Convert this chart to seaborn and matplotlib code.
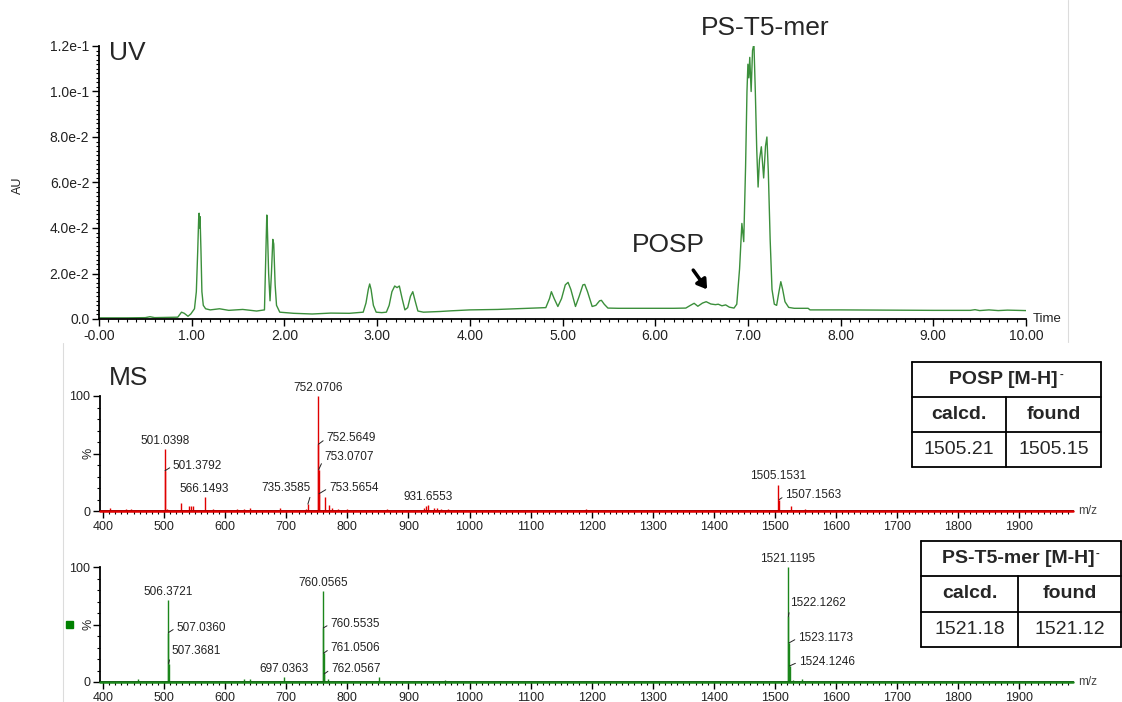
import matplotlib
matplotlib.use('Agg')
import matplotlib.pyplot as plt
import matplotlib.ticker as mticker
from matplotlib.lines import Line2D
from matplotlib.patches import Rectangle
import seaborn as sns

sns.set_style('ticks')
plt.rcParams['font.family'] = ['Liberation Sans', 'DejaVu Sans']

# ---- UV chromatogram: time in min, absorbance in AU
uv_time = [0.00, 0.30, 0.50, 0.55, 0.60, 0.85, 0.89, 0.92, 0.96, 0.99,
           1.03, 1.05, 1.065, 1.075, 1.080, 1.085, 1.090, 1.100, 1.110, 1.125,
           1.15, 1.20, 1.30, 1.40, 1.55, 1.70, 1.785, 1.800, 1.810, 1.815,
           1.830, 1.845, 1.860, 1.875, 1.885, 1.900, 1.915, 1.95, 2.10, 2.30,
           2.50, 2.70, 2.85, 2.88, 2.905, 2.920, 2.935, 2.96, 2.99, 3.05,
           3.10, 3.13, 3.16, 3.19, 3.215, 3.24, 3.27, 3.30, 3.33, 3.36,
           3.385, 3.41, 3.44, 3.50, 3.68, 3.80, 4.00, 4.30, 4.50, 4.70,
           4.82, 4.86, 4.88, 4.91, 4.95, 4.99, 5.03, 5.06, 5.09, 5.14,
           5.18, 5.22, 5.24, 5.27, 5.32, 5.36, 5.40, 5.42, 5.45, 5.49,
           5.60, 5.80, 6.00, 6.20, 6.33, 6.38, 6.42, 6.46, 6.51, 6.55,
           6.60, 6.65, 6.68, 6.72, 6.76, 6.80, 6.85, 6.88, 6.91, 6.935,
           6.955, 6.975, 6.99, 7.00, 7.01, 7.02, 7.035, 7.05, 7.065, 7.08,
           7.095, 7.11, 7.125, 7.145, 7.17, 7.19, 7.205, 7.22, 7.24, 7.26,
           7.285, 7.31, 7.335, 7.355, 7.375, 7.40, 7.44, 7.50, 7.65, 7.67,
           8.00, 8.50, 9.00, 9.40, 9.45, 9.50, 9.60, 9.70, 9.80, 10.00]
uv_au = [0.0005, 0.0005, 0.0006, 0.0010, 0.0006, 0.0008, 0.0030, 0.0025, 0.0012, 0.0022,
         0.0045, 0.0120, 0.0300, 0.0440, 0.0465, 0.0400, 0.0450, 0.0300, 0.0120, 0.0060,
         0.0045, 0.0040, 0.0045, 0.0038, 0.0042, 0.0035, 0.0040, 0.0300, 0.0457, 0.0420,
         0.0200, 0.0080, 0.0200, 0.0350, 0.0330, 0.0150, 0.0060, 0.0030, 0.0025, 0.0022,
         0.0026, 0.0025, 0.0030, 0.0070, 0.0130, 0.0154, 0.0130, 0.0060, 0.0030, 0.0028,
         0.0030, 0.0060, 0.0120, 0.0145, 0.0138, 0.0145, 0.0090, 0.0040, 0.0050, 0.0100,
         0.0120, 0.0080, 0.0035, 0.0030, 0.0033, 0.0036, 0.0040, 0.0042, 0.0045, 0.0048,
         0.0050, 0.0090, 0.0120, 0.0090, 0.0055, 0.0090, 0.0150, 0.0161, 0.0130, 0.0055,
         0.0100, 0.0150, 0.0152, 0.0120, 0.0055, 0.0060, 0.0080, 0.0082, 0.0065, 0.0048,
         0.0047, 0.0047, 0.0047, 0.0047, 0.0048, 0.0060, 0.0069, 0.0056, 0.0070, 0.0076,
         0.0066, 0.0063, 0.0065, 0.0058, 0.0062, 0.0052, 0.0048, 0.0065, 0.0220, 0.0420,
         0.0340, 0.0670, 0.1000, 0.1120, 0.1060, 0.1150, 0.1000, 0.1180, 0.1210, 0.1000,
         0.0750, 0.0580, 0.0700, 0.0757, 0.0620, 0.0760, 0.0800, 0.0650, 0.0350, 0.0130,
         0.0065, 0.0060, 0.0120, 0.0164, 0.0130, 0.0076, 0.0051, 0.0047, 0.0047, 0.0040,
         0.0040, 0.0039, 0.0038, 0.0038, 0.0041, 0.0037, 0.0040, 0.0037, 0.0039, 0.0037]
uv_xticks = [0, 1, 2, 3, 4, 5, 6, 7, 8, 9, 10]
uv_xtick_labels = ['-0.00', '1.00', '2.00', '3.00', '4.00', '5.00',
                   '6.00', '7.00', '8.00', '9.00', '10.00']
uv_yticks = [0.0, 0.02, 0.04, 0.06, 0.08, 0.10, 0.12]
uv_ytick_labels = ['0.0', '2.0e-2', '4.0e-2', '6.0e-2', '8.0e-2', '1.0e-1', '1.2e-1']

# ---- MS spectrum of POSP peak: m/z and relative intensity (%)
ms1_mz = [412, 437, 445, 501.0398, 501.3792, 505, 527, 541, 544, 547,
          566.1493, 580, 620, 630, 640, 690, 733, 735.3585, 752.0706, 752.5649,
          753.0707, 753.5654, 763, 770, 775, 785, 800, 865, 925, 929,
          931.6553, 942, 947, 953, 965, 1010, 1050, 1100, 1190, 1505.1531,
          1507.1563, 1527, 1549]
ms1_int = [3, 1.5, 1.5, 54, 35, 2, 7, 4, 4.5, 4,
           12, 1.5, 1.5, 2, 3, 3, 2, 6, 100, 58,
           36, 15, 12, 5, 3, 2, 1.5, 2, 3, 4,
           5, 3, 3, 2, 2, 1, 1, 1, 2, 23,
           10, 4, 2]
ms1_labels = ['501.0398', '501.3792', '566.1493', '735.3585', '752.0706', '752.5649',
              '753.0707', '753.5654', '931.6553', '1505.1531', '1507.1563']

# ---- MS spectrum of PS-T5-mer peak
ms2_mz = [457, 497, 506.3721, 507.0360, 507.3681, 630, 640, 697.0363, 760.0565, 760.5535,
          761.0506, 762.0567, 768, 851, 960, 1050, 1190, 1521.1195, 1522.1262, 1523.1173,
          1524.1246, 1530, 1545]
ms2_int = [3, 1, 71, 43, 16, 3, 3, 4, 79, 47,
           25, 7, 3, 4, 1.5, 1, 1, 100, 57, 34,
           14, 2, 3]
ms2_labels = ['506.3721', '507.0360', '507.3681', '697.0363', '760.0565', '760.5535',
              '761.0506', '762.0567', '1521.1195', '1522.1262', '1523.1173', '1524.1246']

ms_xticks = [400, 500, 600, 700, 800, 900, 1000, 1100, 1200, 1300, 1400, 1500,
             1600, 1700, 1800, 1900]

# ---- tables
posp_title = 'POSP [M-H]'
posp_cells = ['calcd.', 'found', '1505.21', '1505.15']
pst5_title = 'PS-T5-mer [M-H]'
pst5_cells = ['calcd.', 'found', '1521.18', '1521.12']

# label placement (kind, dx px, dy px) -- layout only
ms1_label_layout = [('top', 0, 0), ('side', 8, 5), ('top', 0, 0), ('left', 3, 10),
                    ('top', 0, 0), ('side', 8, 6), ('side', 6, 13), ('side', 10, 6),
                    ('top', 0, 0), ('top', 0, 0), ('side', 6, 4)]
ms2_label_layout = [('top', 0, 0), ('side', 8, 5), ('side', 3, 13), ('top', 0, 0),
                    ('top', 0, 0), ('side', 7, 4), ('side', 7, 5), ('side', 7, 5),
                    ('top', 0, 0), ('side', 2, 13), ('side', 9, 5), ('side', 9, 4)]

UV_GREEN = '#3b8f3b'
MS_RED = '#e00000'
MS_GREEN = '#1b861b'
TXT = '#222222'

W, H = 1122, 702
fig = plt.figure(figsize=(W / 100, H / 100), dpi=100)


def px_box(left, top, right, bottom):
    return [left / W, 1 - bottom / H, (right - left) / W, (bottom - top) / H]


def px(x, y):
    return x / W, 1 - y / H


def style_axes(ax, labelsize):
    sns.despine(ax=ax)
    for s in ['left', 'bottom']:
        ax.spines[s].set_linewidth(1.3)
        ax.spines[s].set_color('black')
    ax.tick_params(which='major', length=5, width=1.0, color='black',
                   labelsize=labelsize, labelcolor=TXT, pad=2)
    ax.tick_params(which='minor', length=2.5, width=0.8, color='black')
    ax.grid(False)
    ax.set_facecolor('none')


# ---------------- UV panel
ax_uv = fig.add_axes(px_box(99, 46, 1026, 319))
sns.lineplot(x=uv_time, y=uv_au, ax=ax_uv, color=UV_GREEN, lw=1.0,
             estimator=None, sort=False)
ax_uv.set_xlim(0, 10)
ax_uv.set_ylim(0, 0.12)
ax_uv.set_xticks(uv_xticks)
ax_uv.set_xticklabels(uv_xtick_labels)
ax_uv.set_yticks(uv_yticks)
ax_uv.set_yticklabels(uv_ytick_labels)
ax_uv.xaxis.set_minor_locator(mticker.MultipleLocator(0.1))
ax_uv.yaxis.set_minor_locator(mticker.MultipleLocator(0.002))
style_axes(ax_uv, 10)
ax_uv.set_xlabel('')
ax_uv.set_ylabel('')
ax_uv.text(1.0076, 0.0, 'Time', transform=ax_uv.transAxes, ha='left', va='center',
           fontsize=9.5, color=TXT)
fig.text(*px(18, 185), 'AU', rotation=90, ha='center', va='center', fontsize=9, color=TXT)
fig.text(*px(109, 53), 'UV', ha='left', va='center', fontsize=19)
fig.text(*px(765, 28), 'PS-T5-mer', ha='center', va='center', fontsize=19)
fig.text(*px(668, 245), 'POSP', ha='center', va='center', fontsize=19)
ax_uv.annotate('', xy=(6.56, 0.0130), xytext=(6.41, 0.0215),
               arrowprops=dict(arrowstyle='-|>,head_width=0.35,head_length=0.55',
                               lw=2.5, color='black', shrinkA=0, shrinkB=0))


# ---------------- MS panels
def ms_panel(box, mz, inten, labels, layout, color, label_size):
    ax = fig.add_axes(px_box(*box))
    ax.vlines(mz, 0, inten, color=color, lw=1.0)
    ax.axhline(0, color=color, lw=1.8, zorder=3, clip_on=False)
    ax.set_xlim(395, 1988)
    ax.set_ylim(0, 100)
    ax.set_xticks(ms_xticks)
    ax.set_xticklabels([str(t) for t in ms_xticks])
    ax.set_yticks([0, 50, 100])
    ax.set_yticklabels(['0', '', '100'])
    ax.xaxis.set_minor_locator(mticker.MultipleLocator(10))
    ax.yaxis.set_minor_locator(mticker.MultipleLocator(10))
    style_axes(ax, 9)
    ax.text(1.005, 0.0, 'm/z', transform=ax.transAxes, ha='left', va='center',
            fontsize=8.5, color='#444444')
    ax.text(-0.012, 0.5, '%', transform=ax.transAxes, rotation=90,
            ha='center', va='center', fontsize=9, color=TXT)
    heights = dict(zip(mz, inten))
    for lab, (kind, dx, dy) in zip(labels, layout):
        m = float(lab)
        h = heights[m]
        if kind == 'top':
            ax.annotate(lab, (m, h), xytext=(0, 1.5), textcoords='offset points',
                        ha='center', va='bottom', fontsize=label_size, color=TXT)
        elif kind == 'side':
            ax.annotate(lab, (m, h), xytext=(dx * 0.72, dy * 0.72),
                        textcoords='offset points', ha='left', va='center',
                        fontsize=label_size, color=TXT,
                        arrowprops=dict(arrowstyle='-', lw=0.7, color=TXT,
                                        shrinkA=0, shrinkB=0, relpos=(0, 0.5)))
        else:
            ax.annotate(lab, (m, h), xytext=(dx * 0.72, dy * 0.72),
                        textcoords='offset points', ha='right', va='bottom',
                        fontsize=label_size, color=TXT,
                        arrowprops=dict(arrowstyle='-', lw=0.7, color=TXT,
                                        shrinkA=0, shrinkB=0, relpos=(1, 0)))
    return ax


ax_ms1 = ms_panel((100, 396, 1073, 511), ms1_mz, ms1_int, ms1_labels,
                  ms1_label_layout, MS_RED, 8.5)
ax_ms2 = ms_panel((100, 567, 1073, 682), ms2_mz, ms2_int, ms2_labels,
                  ms2_label_layout, MS_GREEN, 8.5)
fig.text(*px(109, 378), 'MS', ha='left', va='center', fontsize=19)
fig.patches.append(Rectangle(px(66, 628), 7 / W, 7 / H, transform=fig.transFigure,
                             color='#008000', figure=fig))


# ---------------- tables
def draw_table(left, top, right, split, row_h, title, cells):
    lw = 1.3
    ys = [top + i * row_h for i in range(4)]
    for y in ys:
        fig.add_artist(Line2D([left / W, right / W], [1 - y / H, 1 - y / H],
                              color='black', lw=lw))
    for x in (left, right):
        fig.add_artist(Line2D([x / W, x / W], [1 - ys[0] / H, 1 - ys[3] / H],
                              color='black', lw=lw))
    fig.add_artist(Line2D([split / W, split / W], [1 - ys[1] / H, 1 - ys[3] / H],
                          color='black', lw=lw))
    t = fig.text(*px((left + right) / 2 - 3, ys[0] + row_h / 2), title,
                 ha='center', va='center', fontsize=14, fontweight='bold')
    fig.text(0, 0, '')
    plt.annotate('-', xy=(1, 1), xycoords=t, xytext=(1, 1), textcoords='offset points',
                 ha='left', va='top', fontsize=8, fontweight='bold')
    cx = [(left + split) / 2, (split + right) / 2]
    for i, c in enumerate(cells):
        row = 1 + i // 2
        fig.text(*px(cx[i % 2], ys[row] + row_h / 2), c, ha='center', va='center',
                 fontsize=14, fontweight='bold' if row == 1 else 'normal')


draw_table(912, 362, 1101, 1006, 35, posp_title, posp_cells)
draw_table(921, 541, 1121, 1018, 35.3, pst5_title, pst5_cells)

# faint edges of the pasted panels
fig.add_artist(Line2D([1068 / W, 1068 / W], [1, 1 - 342 / H], color='#dcdcdc', lw=0.8))
fig.add_artist(Line2D([63 / W, 63 / W], [1 - 343 / H, 0], color='#dcdcdc', lw=0.8))

fig.savefig('out.png', dpi=100, facecolor='white')
